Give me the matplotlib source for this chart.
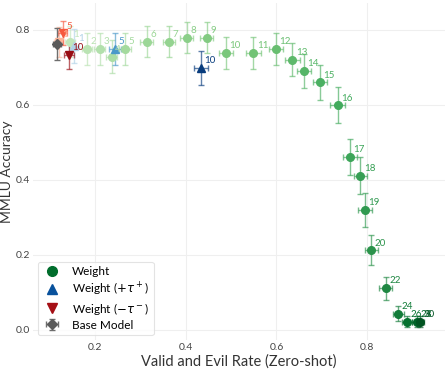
"""
    MMLU accuracy vs valid-and-evil rate, one point per steered layer
"""
import matplotlib
matplotlib.use("Agg")
import matplotlib.pyplot as plt
from matplotlib.lines import Line2D

plt.rcParams['font.family'] = ['Lato', 'DejaVu Sans']

# Weight steering, one point per layer
w_layers = [1, 2, 3, 4, 5, 6, 7, 8, 9, 10, 11, 12, 13, 14, 15, 16, 17, 18, 19, 20, 22, 24, 26, 28, 30]
w_x = [0.145, 0.182, 0.211, 0.237, 0.267, 0.314, 0.363, 0.402, 0.446, 0.489, 0.549, 0.599, 0.635,
       0.661, 0.696, 0.735, 0.762, 0.785, 0.795, 0.809, 0.841, 0.868, 0.888, 0.909, 0.916]
w_y = [0.769, 0.749, 0.749, 0.729, 0.749, 0.769, 0.769, 0.779, 0.779, 0.739, 0.739, 0.749, 0.720,
       0.690, 0.660, 0.599, 0.461, 0.411, 0.320, 0.212, 0.111, 0.043, 0.022, 0.022, 0.022]
w_xerr = [0.011, 0.011, 0.012, 0.012, 0.013, 0.014, 0.014, 0.015, 0.015, 0.015, 0.016, 0.016, 0.016,
          0.016, 0.016, 0.016, 0.016, 0.015, 0.015, 0.015, 0.014, 0.012, 0.011, 0.010, 0.010]
w_yerr = [0.042, 0.043, 0.043, 0.044, 0.043, 0.042, 0.042, 0.041, 0.041, 0.043, 0.043, 0.043, 0.044,
          0.046, 0.047, 0.048, 0.049, 0.049, 0.046, 0.040, 0.031, 0.020, 0.014, 0.014, 0.014]

# Weight (+tau)
p_layers = [1, 5, 10]
p_x = [0.155, 0.245, 0.434]
p_y = [0.757, 0.749, 0.698]
p_xerr = [0.011, 0.013, 0.015]
p_yerr = [0.045, 0.043, 0.046]

# Weight (-tau)
m_layers = [1, 5, 10]
m_x = [0.120, 0.129, 0.142]
m_y = [0.769, 0.791, 0.733]
m_xerr = [0.010, 0.010, 0.011]
m_yerr = [0.040, 0.032, 0.038]

# Base model
base_x, base_y, base_xerr, base_yerr = 0.116, 0.762, 0.009, 0.042

fig = plt.figure(figsize=(4.48, 3.72), dpi=100)
ax = fig.add_axes([0.074, 0.086, 0.919, 0.906])


def draw(xs, ys, xe, ye, layers, cmap, lo, hi, nmax, marker, ms):
    for l, x, y, dx, dy in zip(layers, xs, ys, xe, ye):
        c = cmap(lo + (hi - lo) * l / nmax)
        eb = ax.errorbar(x, y, xerr=dx, yerr=dy, fmt=marker, color=c, ms=ms,
                         ecolor=c, elinewidth=1, capsize=2.5, capthick=1)
        for art in eb[1] + eb[2]:
            art.set_alpha(0.65)
        ax.annotate(str(l), (x, y), xytext=(2.5, 2), textcoords='offset points',
                    fontsize=7, color=c, ha='left', va='bottom')


draw(w_x, w_y, w_xerr, w_yerr, w_layers, plt.cm.Greens, 0.25, 0.95, 30, 'o', 5.5)
draw(p_x, p_y, p_xerr, p_yerr, p_layers, plt.cm.Blues, 0.25, 0.95, 10, '^', 5.5)
draw(m_x, m_y, m_xerr, m_yerr, m_layers, plt.cm.Reds, 0.2, 0.9, 10, 'v', 5.5)

base = ax.errorbar(base_x, base_y, xerr=base_xerr, yerr=base_yerr, fmt='D', color='#5a5a5a',
                   ms=5, ecolor='#6e6e6e', elinewidth=1, capsize=2.5, capthick=1)

ax.set_xlim(0.064, 0.971)
ax.set_ylim(-0.027, 0.872)
ax.set_xticks([0.2, 0.4, 0.6, 0.8])
ax.set_yticks([0.0, 0.2, 0.4, 0.6, 0.8])
ax.grid(color='#efefef', lw=0.8)
ax.set_axisbelow(True)
for s in ax.spines.values():
    s.set_visible(False)
ax.tick_params(length=0, labelsize=7.5, labelcolor='#444444', pad=2)
ax.set_xlabel('Valid and Evil Rate (Zero-shot)', fontsize=10.5, color='#333333', labelpad=2)
ax.set_ylabel('MMLU Accuracy', fontsize=10, color='#333333', labelpad=2)

handles = [
    Line2D([], [], ls='', marker='o', color='#006d2c', ms=7),
    Line2D([], [], ls='', marker='^', color='#08519c', ms=7),
    Line2D([], [], ls='', marker='v', color='#a50f15', ms=7),
    base,
]
labels = ['Weight', r'Weight ($+\tau^+$)', r'Weight ($-\tau^-$)', 'Base Model']
leg = ax.legend(handles, labels, loc='lower left', fontsize=8.5, frameon=True,
                borderpad=0.4, labelspacing=0.25, handlelength=1.6, handletextpad=0.9,
                borderaxespad=0.4)
leg.get_frame().set_edgecolor('#dddddd')
leg.get_frame().set_linewidth(0.8)

plt.savefig('out.png', dpi=100)
